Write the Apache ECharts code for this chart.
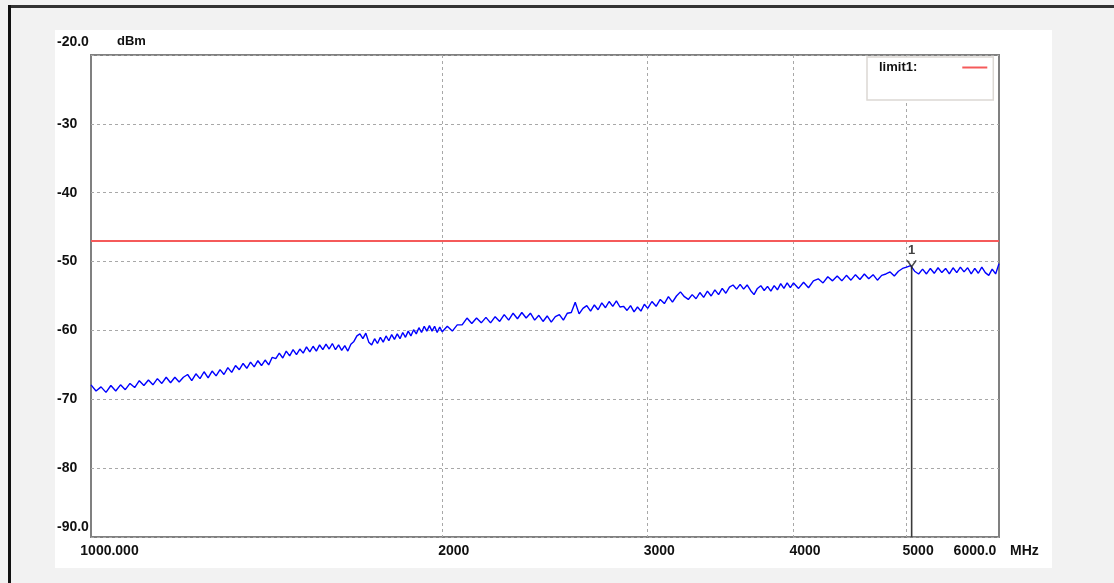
<!DOCTYPE html>
<html>
<head>
<meta charset="utf-8">
<script src="https://cdn.jsdelivr.net/npm/echarts@6/dist/echarts.min.js"></script>
<style>
html,body{margin:0;padding:0;background:#f2f2f2;}
#c{width:1114px;height:583px;}
</style>
</head>
<body>
<div id="c"></div>
<script>
// ---- data ----
const freqMHz = [
1000,1010,1020,1030,1040,1050,1060,1070,1080,1090,
1100,1110,1120,1130,1140,1150,1160,1170,1180,1190,
1200,1210,1220,1230,1240,1250,1260,1270,1280,1290,
1300,1310,1320,1330,1340,1350,1360,1370,1380,1390,
1400,1410,1420,1430,1440,1450,1460,1470,1480,1490,
1500,1510,1520,1530,1540,1550,1560,1570,1580,1590,
1600,1610,1620,1630,1640,1650,1660,1670,1680,1690,
1700,1710,1720,1730,1740,1750,1760,1770,1780,1790,
1800,1810,1820,1830,1840,1850,1860,1870,1880,1890,
1900,1910,1920,1930,1940,1950,1960,1970,1980,1990,
2000,
2020,2040,2060,2080,2100,2120,2140,2160,2180,2200,
2220,2240,2260,2280,2300,2320,2340,2360,2380,2400,
2420,2440,2460,2480,2500,2520,2540,2560,2580,2600,
2620,2640,2660,2680,2700,2720,2740,2760,2780,2800,
2820,2840,2860,2880,2900,2920,2940,2960,2980,3000,
3025,3050,3075,3100,3125,3150,3175,3200,3225,3250,
3275,3300,3325,3350,3375,3400,3425,3450,3475,3500,
3525,3550,3575,3600,3625,3650,3675,3700,3725,3750,
3775,3800,3825,3850,3875,3900,3925,3950,3975,4000,
4040,4080,4120,4160,4200,4240,4280,4320,4360,4400,
4440,4480,4520,4560,4600,4640,4680,4720,4760,4800,
4840,4880,4920,4960,5000,5040,5080,5120,5160,5200,
5240,5280,5320,5360,5400,5440,5480,5520,5560,5600,
5640,5680,5720,5760,5800,5840,5880,5920,5960,6000
];
const levelDbm = [
-67.9,-68.8,-68.2,-69.0,-68.0,-68.8,-67.9,-68.6,-67.7,-68.3,
-67.3,-68.0,-67.2,-67.9,-67.0,-67.7,-66.8,-67.6,-66.8,-67.5,
-66.8,-66.4,-67.3,-66.3,-67.0,-66.0,-66.9,-65.9,-66.6,-65.7,
-66.4,-65.4,-66.1,-65.1,-65.7,-64.8,-65.5,-64.6,-65.3,-64.4,
-65.1,-64.3,-65.0,-63.9,-64.1,-63.3,-64.0,-63.0,-63.7,-62.8,
-63.5,-62.7,-63.3,-62.4,-63.1,-62.3,-63.0,-62.1,-62.8,-62.0,
-62.7,-61.9,-62.8,-62.1,-62.9,-62.2,-63.0,-62.0,-61.6,-60.8,
-60.5,-61.2,-60.4,-61.7,-62.1,-61.2,-61.9,-61.0,-61.7,-60.8,
-61.5,-60.6,-61.3,-60.5,-61.2,-60.3,-61.0,-60.1,-60.8,-59.9,
-60.5,-59.6,-60.3,-59.4,-60.1,-59.3,-60.1,-59.4,-60.3,-59.5,
-60.2,
-59.4,-60.1,-59.2,-59.2,-58.2,-59.0,-58.2,-58.9,-58.1,-58.9,
-58.0,-58.7,-57.7,-58.5,-57.5,-58.3,-57.4,-58.2,-57.5,-58.5,
-57.8,-58.7,-57.9,-58.8,-58.0,-57.7,-58.5,-57.5,-57.4,-55.9,
-57.6,-56.8,-56.4,-57.2,-56.3,-57.0,-56.0,-56.7,-55.8,-56.5,
-55.7,-56.6,-56.5,-57.1,-56.4,-57.3,-56.6,-57.2,-56.2,-56.8,
-55.8,-56.5,-55.5,-56.1,-55.1,-55.9,-55.0,-54.4,-55.1,-55.5,
-54.8,-55.4,-54.5,-55.2,-54.3,-55.0,-54.1,-54.8,-53.9,-54.6,
-53.7,-53.4,-54.0,-53.3,-54.0,-53.4,-54.2,-54.8,-53.9,-53.5,
-54.2,-53.6,-54.3,-53.5,-54.1,-53.2,-53.9,-53.1,-53.8,-53.1,
-53.9,-53.0,-53.8,-52.8,-52.5,-53.1,-52.2,-52.8,-52.1,-52.8,
-52.0,-52.7,-51.9,-52.6,-51.8,-52.5,-51.9,-52.7,-52.0,-51.8,
-51.5,-52.1,-51.4,-51.0,-50.8,-50.6,-51.4,-51.8,-51.1,-51.8,
-51.0,-51.7,-50.9,-51.6,-51.0,-51.8,-50.9,-51.6,-50.8,-51.5,
-50.9,-51.8,-51.0,-51.7,-50.8,-51.6,-52.0,-51.1,-51.8,-50.3
];
const limitName = 'limit1:';
const limitDbm = -47;
const markerLabel = '1';
const markerMHz = 5050;
const markerDbm = -50.7;
const xTickValues = [1000, 2000, 3000, 4000, 5000, 6000];
const xTickLabels = ['1000.000', '2000', '3000', '4000', '5000', '6000.0'];
const xGridValues = [2000, 3000, 4000, 5000];
const yMin = -90, yMax = -20, yStep = 10;
const yEndLabels = {'-20': '-20.0', '-90': '-90.0'};
const xUnit = 'MHz', yUnit = 'dBm';

// ---- chart ----
const FONT = '"Liberation Sans", Arial, sans-serif';
const chart = echarts.init(document.getElementById('c'), null, {renderer: 'canvas'});
const trace = freqMHz.map((f, i) => [f, levelDbm[i]]);

const option = {
  backgroundColor: '#f2f2f2',
  animation: false,
  textStyle: {fontFamily: FONT},
  graphic: [
    {type: 'rect', z: -10, silent: true, shape: {x: 55, y: 30, width: 997, height: 538}, style: {fill: '#ffffff'}},
    {type: 'line', z: -5, silent: true, shape: {x1: 8, y1: 6.5, x2: 1114, y2: 6.5}, style: {stroke: '#333333', lineWidth: 3}},
    {type: 'line', z: -5, silent: true, shape: {x1: 9.5, y1: 5, x2: 9.5, y2: 583}, style: {stroke: '#111111', lineWidth: 3}}
  ],
  grid: {
    left: 91, top: 55, right: 115, bottom: 46,
    show: true, backgroundColor: '#ffffff', borderColor: '#808080', borderWidth: 2,
    containLabel: false
  },
  legend: {
    data: [limitName],
    left: 867, top: 57,
    align: 'right',
    icon: 'rect', itemWidth: 25, itemHeight: 2,
    backgroundColor: '#ffffff', borderColor: '#dcd8d4', borderWidth: 1.5,
    padding: [4, 6, 26, 12],
    selectedMode: false,
    textStyle: {color: '#111', fontWeight: 'bold', fontSize: 13, fontFamily: FONT, padding: [0, 40, 0, 0]}
  },
  xAxis: {
    type: 'log', logBase: 10, min: 1000, max: 6000,
    name: xUnit, nameLocation: 'end', nameGap: 11,
    nameTextStyle: {color: '#111', fontWeight: 'bold', fontSize: 14, fontFamily: FONT, verticalAlign: 'top', padding: [7, 0, 0, 0]},
    axisLine: {show: false},
    axisTick: {show: false, customValues: xGridValues},
    splitLine: {show: true, lineStyle: {color: '#a8a8a8', type: [3, 3], width: 1}},
    axisLabel: {
      customValues: xTickValues,
      margin: 7,
      color: '#111', fontWeight: 'bold', fontSize: 14, fontFamily: FONT,
      formatter: function (v) {
        const i = xTickValues.indexOf(Math.round(v));
        if (i < 0) return '';
        const t = xTickLabels[i];
        if (i === 0) return '{a|' + t + '}';
        if (i === xTickValues.length - 1) return '{c|' + t + '}';
        return '{b|' + t + '}';
      },
      rich: {
        a: {padding: [0, 0, 0, 37], fontWeight: 'bold', fontSize: 14, color: '#111', fontFamily: FONT},
        b: {padding: [0, 0, 0, 23], fontWeight: 'bold', fontSize: 14, color: '#111', fontFamily: FONT},
        c: {padding: [0, 48, 0, 0], fontWeight: 'bold', fontSize: 14, color: '#111', fontFamily: FONT}
      }
    }
  },
  yAxis: {
    type: 'value', min: yMin, max: yMax, interval: yStep,
    name: yUnit, nameLocation: 'end', nameGap: 7,
    nameTextStyle: {color: '#111', fontWeight: 'bold', fontSize: 13, fontFamily: FONT, align: 'left', padding: [0, 0, 0, 26]},
    axisLine: {show: false},
    axisTick: {show: false},
    splitLine: {show: true, lineStyle: {color: '#a8a8a8', type: [3, 3], width: 1}},
    axisLabel: {
      align: 'left', margin: 34,
      color: '#111', fontWeight: 'bold', fontSize: 14, fontFamily: FONT,
      formatter: function (v) {
        const k = String(Math.round(v));
        if (k === String(yMax)) return '{top|' + yEndLabels[k] + '}';
        if (k === String(yMin)) return '{bot|' + yEndLabels[k] + '}';
        return k;
      },
      rich: {
        top: {padding: [0, 0, 25, 0], fontWeight: 'bold', fontSize: 14, color: '#111', fontFamily: FONT},
        bot: {padding: [0, 0, 19, 0], fontWeight: 'bold', fontSize: 14, color: '#111', fontFamily: FONT}
      }
    }
  },
  series: [
    {
      name: 'trace', type: 'line', data: trace, symbol: 'none', silent: true,
      lineStyle: {color: '#0000ff', width: 1.4}, itemStyle: {color: '#0000ff'}, z: 3
    },
    {
      name: limitName, type: 'line', data: [[1000, limitDbm], [6000, limitDbm]], symbol: 'none', silent: true,
      lineStyle: {color: '#f55a5a', width: 2}, itemStyle: {color: '#f55a5a'}, z: 4
    },
    {
      name: 'markerLine', type: 'line', data: [[markerMHz, markerDbm], [markerMHz, yMin]], symbol: 'none', silent: true,
      lineStyle: {color: '#3a3a3a', width: 1.6}, z: 5
    },
    {
      name: 'marker', type: 'scatter', data: [[markerMHz, markerDbm]], silent: true, z: 6,
      symbol: 'path://M0,0L5,7L10,0M5,7L5,9', symbolSize: [9, 8], symbolOffset: [0, -2],
      itemStyle: {color: 'none', borderColor: '#222', borderWidth: 1.5},
      label: {show: true, position: 'top', distance: 1, formatter: markerLabel, color: '#111', fontWeight: 'bold', fontSize: 13, fontFamily: FONT}
    }
  ]
};
chart.setOption(option);
</script>
</body>
</html>
